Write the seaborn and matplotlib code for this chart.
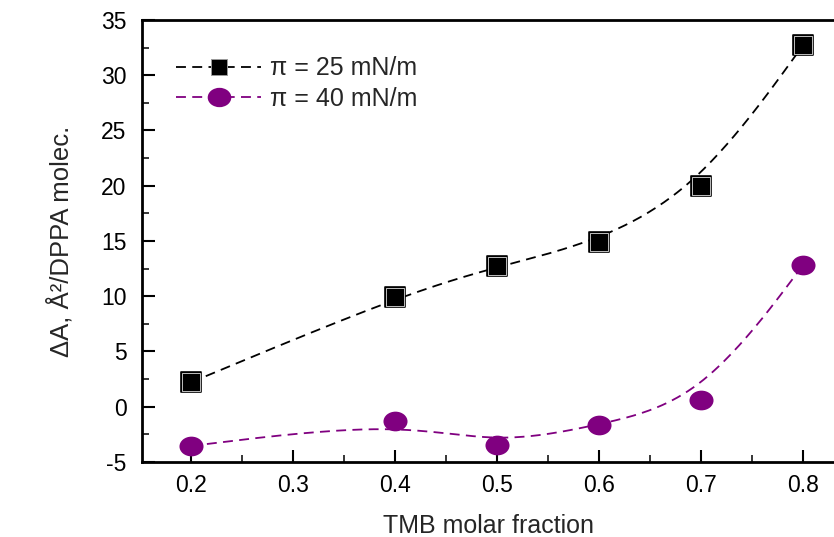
import numpy as np
import pandas as pd
import matplotlib
matplotlib.use('Agg')
import matplotlib.pyplot as plt
import matplotlib.path as mpath
import matplotlib.transforms as mtrans
from matplotlib.lines import Line2D
from matplotlib.ticker import MultipleLocator
import seaborn as sns

# data
fraction = [0.2, 0.4, 0.5, 0.6, 0.7, 0.8]
area_25 = [2.2, 9.9, 12.7, 14.9, 20.0, 32.7]
area_40 = [-3.55, -1.3, -3.45, -1.65, 0.6, 12.8]
labels = ['\u03c0 = 25 mN/m', '\u03c0 = 40 mN/m']

x_ticks = [0.2, 0.3, 0.4, 0.5, 0.6, 0.7, 0.8]
y_ticks = [-5, 0, 5, 10, 15, 20, 25, 30, 35]

purple = '#800080'


def bspline(xs, ys, n=40):
    # cubic B-spline with the data points as control points (ends clamped)
    px = np.r_[xs[0], xs[0], xs, xs[-1], xs[-1]]
    py = np.r_[ys[0], ys[0], ys, ys[-1], ys[-1]]
    t = np.linspace(0, 1, n)
    b = np.array([(1 - t) ** 3, 3 * t ** 3 - 6 * t ** 2 + 4,
                  -3 * t ** 3 + 3 * t ** 2 + 3 * t + 1, t ** 3]) / 6
    cx, cy = [], []
    for i in range(len(px) - 3):
        cx.append(b.T @ px[i:i + 4])
        cy.append(b.T @ py[i:i + 4])
    return np.concatenate(cx), np.concatenate(cy)


sns.set_style('ticks')
plt.rcParams['font.family'] = ['Liberation Sans', 'DejaVu Sans']
plt.rcParams['axes.unicode_minus'] = False

fig = plt.figure(figsize=(8.34, 5.37), dpi=100)
ax = fig.add_axes([0.170, 0.1397, 0.832, 0.8231])

ellipse = mpath.Path.unit_circle().transformed(mtrans.Affine2D().scale(1.22, 1.0))

dash = (0, (5.5, 3.5))
sx, sy = bspline(np.array(fraction), np.array(area_25))
ax.plot(sx, sy, color='black', lw=1.3, ls=dash, zorder=2)
sx, sy = bspline(np.array(fraction), np.array(area_40))
ax.plot(sx, sy, color=purple, lw=1.3, ls=dash, zorder=2)

df = pd.DataFrame({'fraction': fraction, 'a25': area_25, 'a40': area_40})
sns.scatterplot(data=df, x='fraction', y='a25', ax=ax, marker='s', s=190,
                color='black', edgecolor='black', linewidth=1.2, zorder=3)
sns.scatterplot(data=df, x='fraction', y='a25', ax=ax, marker='s', s=150,
                color='black', edgecolor='0.75', linewidth=0.7, zorder=4)
sns.scatterplot(data=df, x='fraction', y='a40', ax=ax, marker=ellipse, s=300,
                color=purple, edgecolor=purple, linewidth=0, zorder=3)

ax.set_xlim(0.152, 0.832)
ax.set_ylim(-5, 35)
ax.set_xticks(x_ticks)
ax.set_xticklabels([f'{v:.1f}' for v in x_ticks])
ax.set_yticks(y_ticks)
ax.xaxis.set_minor_locator(MultipleLocator(0.05))
ax.yaxis.set_minor_locator(MultipleLocator(2.5))
ax.tick_params(which='major', direction='in', length=9, width=1.5,
               labelsize=16.5, colors='black')
ax.tick_params(axis='y', which='major', pad=11)
ax.tick_params(axis='x', which='major', pad=9)
ax.tick_params(which='minor', direction='in', length=5, width=1.3)
ax.tick_params(top=False, right=False, which='both')

for side in ['left', 'bottom', 'top']:
    ax.spines[side].set_linewidth(2)
    ax.spines[side].set_color('black')
ax.spines['right'].set_visible(False)

ax.set_xlabel('TMB molar fraction', fontsize=18, labelpad=12)
ax.set_ylabel('\u0394A, \u00c5\u00b2/DPPA molec.', fontsize=18.5, labelpad=20)

handles = [
    Line2D([], [], color='black', lw=1.3, ls=dash, marker='s', ms=11,
           mfc='black', mec='0.6', mew=0.7),
    Line2D([], [], color=purple, lw=1.3, ls=dash, marker=ellipse, ms=17,
           mfc=purple, mec=purple, mew=0),
]
ax.legend(handles, labels, loc='upper left', bbox_to_anchor=(0.035, 0.94),
          frameon=False, fontsize=18, handlelength=3.4, handletextpad=0.35,
          labelspacing=0.25, borderaxespad=0)

fig.savefig('out.png', dpi=100)
